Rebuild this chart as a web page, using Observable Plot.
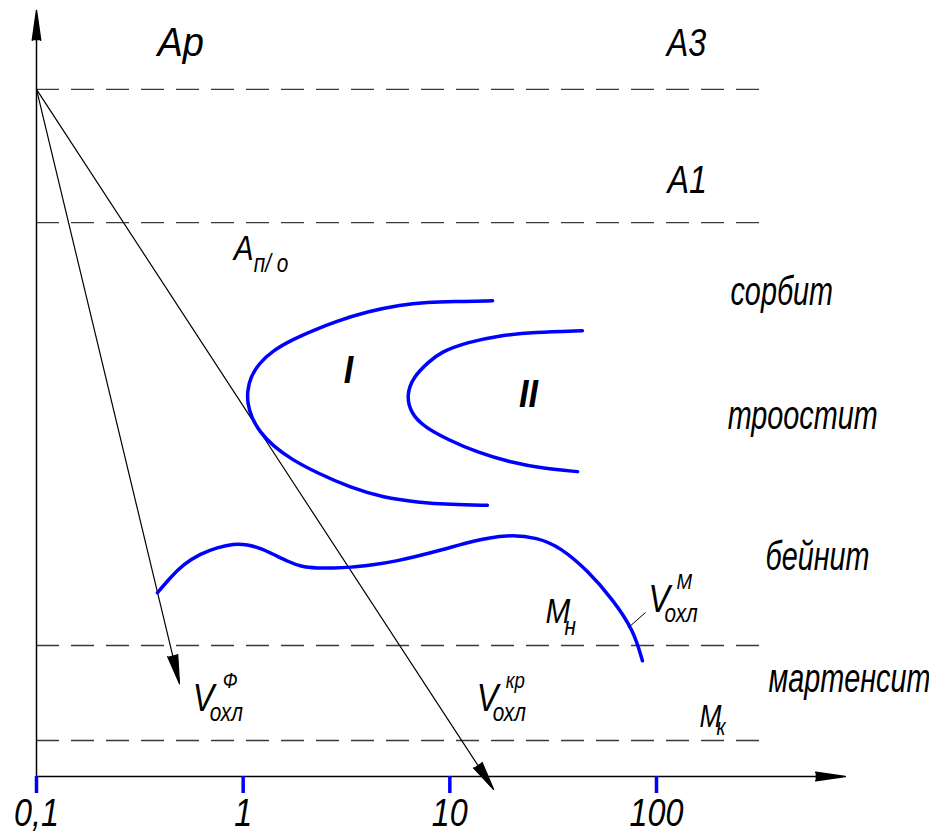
<!DOCTYPE html>
<html>
<head>
<meta charset="utf-8">
<script src="https://cdn.jsdelivr.net/npm/d3@7"></script>
<script src="https://cdn.jsdelivr.net/npm/@observablehq/plot@0.6"></script>
<style>
  body { margin: 0; background: #fff; }
  #chart svg { display: block; background: #fff; }
</style>
</head>
<body>
<div id="chart"></div>
<script>
// Time axis (log scale), tick values and their labels
const tickValues = [0.1, 1, 10, 100];
const tickLabels = ["0,1", "1", "10", "100"];

// Critical temperatures (vertical scale units): A3, A1, Mн, Mк
const criticalTemps = [897, 723, 171, 47];
const isothermEnd = 340;  // time at which the dashed isotherms stop

// Curve I — start of austenite decomposition (time, temperature)
const curveITime = [16.1, 10.4, 7.8, 5.77, 4.0, 2.80, 2.17, 1.75, 1.39, 1.19, 1.085, 1.049,
                    1.049, 1.097, 1.20, 1.39, 1.71, 2.29, 3.31, 4.78, 6.98, 10.1, 15.2];
const curveITemp = [621, 620, 619, 616, 607, 594, 582, 571, 556, 539, 521, 504,
                    487, 469, 450, 432, 414, 396, 377, 364, 358, 355, 354];

// Curve II — end of austenite decomposition
const curveIITime = [43.8, 25.4, 17.6, 12.2, 9.01, 7.88, 6.67, 6.17, 6.45, 7.46, 9.74,
                     13.6, 19.7, 28.4, 41.5];
const curveIITemp = [582, 580, 576, 567, 554, 541, 522, 499, 475, 457, 440,
                     423, 410, 402, 398];

// Bainite / martensite boundary curve
const bainiteTime = [0.385, 0.445, 0.514, 0.622, 0.751, 0.898, 1.049, 1.213, 1.402, 1.639,
                     1.894, 2.289, 2.736, 3.306, 4.131, 5.34, 9.01, 13.0, 19.0, 26.6,
                     34.3, 46.4, 61.9, 77.4, 85.5];
const bainiteTemp = [240, 260, 277, 291, 299, 304, 303, 298, 290, 281,
                     274, 272, 272, 273, 276, 280, 295, 308, 316, 312,
                     299, 269, 230, 191, 151];

// Cooling-rate vectors, all starting from the A3 point at t = 0.1
const coolStartTime = 0.1, coolStartTemp = 897;
const coolEndTime = [0.492, 16.3];   // V охл Ф, V охл кр
const coolEndTemp = [121, -17];

// Axis extents
const axisTimeMax = 820, axisTempMax = 1000;

// Leader from the bainite curve to the V охл М label
const leaderTime = [73.2, 88.5];
const leaderTemp = [194.5, 214.1];

// Text labels: [text, time, temperature]
const regionLabels = [["сорбит", 228, 615], ["троостит", 221, 454],
                      ["бейнит", 337, 270], ["мартенсит", 348, 110]];
const pointLabels = [["Ар", 0.385, 941]];
const criticalLabels = [["А3", 112, 941], ["А1", 113, 762]];
const romanLabels = [["I", 3.23, 514], ["II", 24.0, 483]];

const font = "'Liberation Sans Narrow','Liberation Sans',Arial,sans-serif";
const BLUE = "#0000ff";

const toRows = (ts, vs) => ts.map((t, i) => ({t, v: vs[i]}));
const rowsOf = (labels) => labels.map(([text, t, v]) => ({text, t, v}));

// Fill the arrowhead of an arrow mark so it reads as a solid triangle
const solidHead = (index, scales, values, dims, ctx, next) => {
  const g = next(index, scales, values, dims, ctx);
  g.querySelectorAll("path").forEach(p => p.setAttribute("fill", "black"));
  return g;
};

// Narrow the glyphs horizontally (drafting-style condensed lettering)
const squeeze = k => (index, scales, values, dims, ctx, next) => {
  const g = next(index, scales, values, dims, ctx);
  g.querySelectorAll("text").forEach(t => {
    const tr = t.getAttribute("transform");
    if (tr) t.setAttribute("transform", `${tr} scale(${k},1)`);
    else {
      const x = +t.getAttribute("x") || 0;
      t.setAttribute("x", 0);
      t.setAttribute("transform", `translate(${x},0) scale(${k},1)`);
    }
  });
  return g;
};

const txt = (rows, size, k, extra = {}) => Plot.text(rows, {
  x: "t", y: "v", text: "text", fontSize: size, fontStyle: "italic",
  fontFamily: font, fill: "black", textAnchor: "start", lineAnchor: "bottom",
  render: squeeze(k), ...extra
});

// Label with a subscript and optional superscript (e.g. V охл кр)
const scripted = (main, sub, sup, t, v, size, subSize, subDx, subDy, supDx, supDy) => {
  const row = [{t, v}];
  const marks = [
    txt(row, size, 0.85, {text: () => main}),
    txt(row, subSize, 0.8, {text: () => sub, dx: subDx, dy: subDy})
  ];
  if (sup) marks.push(txt(row, subSize - 4, 0.85, {text: () => sup, dx: supDx, dy: supDy}));
  return marks;
};

const curveStyle = {x: "t", y: "v", curve: "basis", stroke: BLUE, strokeWidth: 3.5,
  strokeLinecap: "round"};

const chart = Plot.plot({
  width: 929,
  height: 834,
  marginTop: 10,
  marginBottom: 58,
  marginLeft: 36,
  marginRight: 273,
  x: {type: "log", domain: [0.1, 100], label: null},
  y: {domain: [0, axisTempMax], axis: null, label: null},
  marks: [
    // dashed isotherms
    Plot.ruleY(criticalTemps, {x1: 0.1, x2: isothermEnd, stroke: "#3a3a3a",
      strokeWidth: 1.3, strokeDasharray: "23,12"}),
    // axes with arrowheads
    Plot.arrow([0], {x1: 0.1, y1: 0, x2: 0.1, y2: axisTempMax, stroke: "black",
      strokeWidth: 1.5, headLength: 30, headAngle: 16, render: solidHead}),
    Plot.arrow([0], {x1: 0.1, y1: 0, x2: axisTimeMax, y2: 0, stroke: "black",
      strokeWidth: 1.5, headLength: 30, headAngle: 16, render: solidHead}),
    Plot.axisX({ticks: tickValues, tickFormat: d => tickLabels[tickValues.indexOf(d)],
      label: null, tickSize: 17, tickPadding: 6, stroke: BLUE, strokeWidth: 3.5,
      fill: "black", fontSize: 38, fontStyle: "italic", fontFamily: font,
      render: squeeze(0.85)}),
    // cooling-rate vectors
    Plot.arrow(coolEndTime, {x1: coolStartTime, y1: coolStartTemp,
      x2: coolEndTime, y2: coolEndTemp, stroke: "black", strokeWidth: 1.2,
      headLength: 37, headAngle: 20, render: solidHead}),
    // transformation curves
    Plot.line(toRows(curveITime, curveITemp), curveStyle),
    Plot.line(toRows(curveIITime, curveIITemp), curveStyle),
    Plot.line(toRows(bainiteTime, bainiteTemp), curveStyle),
    Plot.link([0], {x1: leaderTime[0], y1: leaderTemp[0], x2: leaderTime[1], y2: leaderTemp[1],
      stroke: "black", strokeWidth: 1}),
    // labels
    txt(rowsOf(pointLabels), 40, 0.95),
    txt(rowsOf(criticalLabels), 38, 0.85),
    txt(rowsOf(regionLabels), 40, 0.72),
    txt(rowsOf(romanLabels), 38, 0.9, {textAnchor: "middle", fontWeight: "bold"}),
    ...scripted("А", "п/ о", null, 0.9, 674, 35, 26, 20, 12),
    ...scripted("М", "н", null, 29.0, 200, 35, 26, 19, 12),
    ...scripted("М", "к", null, 161.5, 64, 31, 24, 17, 8),
    ...scripted("V", "охл", "Ф", 0.57, 86, 38, 26, 17, 10, 30, -23),
    ...scripted("V", "охл", "кр", 13.5, 86, 38, 26, 16, 10, 29, -23),
    ...scripted("V", "охл", "М", 91.5, 215, 38, 26, 16, 10, 28, -23)
  ]
});

document.getElementById("chart").appendChild(chart);
</script>
</body>
</html>
